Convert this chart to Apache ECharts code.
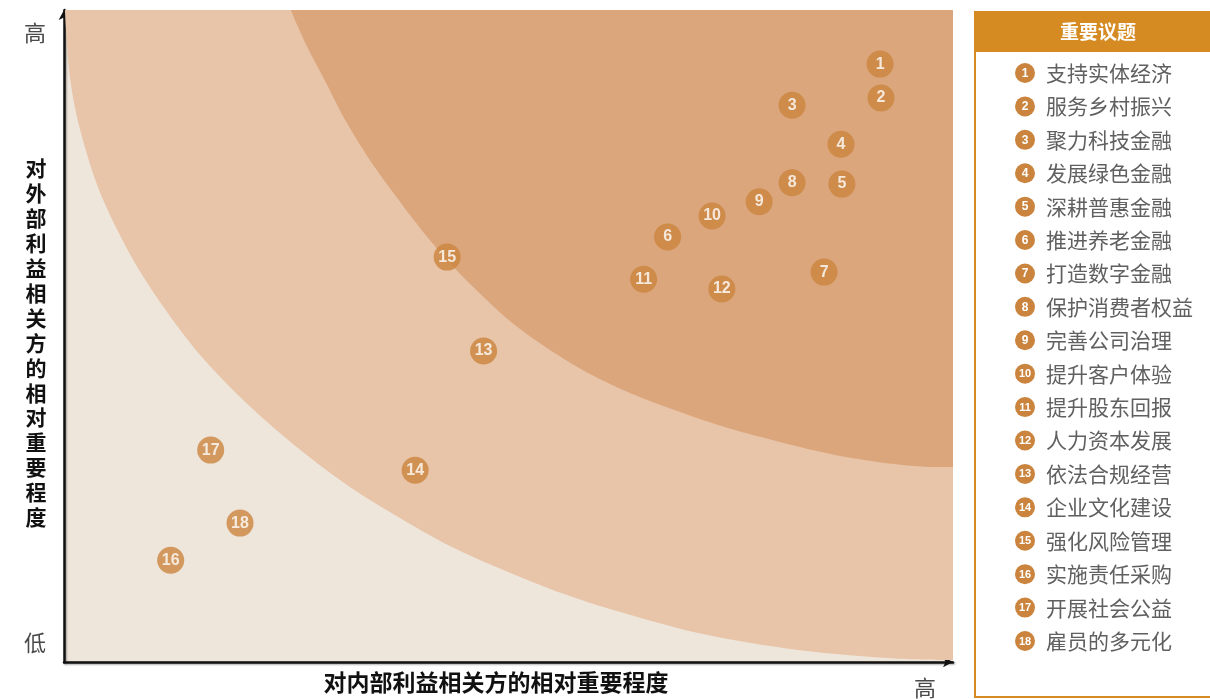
<!DOCTYPE html>
<html>
<head>
<meta charset="utf-8">
<script src="https://cdn.jsdelivr.net/npm/echarts@6/dist/echarts.min.js"></script>
<style>
html,body{margin:0;padding:0;background:#fff;}
#chart{width:1210px;height:699px;}
</style>
</head>
<body>
<div id="chart"></div>
<script>
// Topic names (legend)
const topicNames = ['支持实体经济','服务乡村振兴','聚力科技金融','发展绿色金融','深耕普惠金融','推进养老金融','打造数字金融','保护消费者权益','完善公司治理','提升客户体验','提升股东回报','人力资本发展','依法合规经营','企业文化建设','强化风险管理','实施责任采购','开展社会公益','雇员的多元化'];
// Importance to internal stakeholders (x, 0-100)
const internalScores = [91.8, 91.9, 81.9, 87.4, 87.5, 67.9, 85.5, 81.9, 78.2, 72.9, 65.2, 74.0, 47.2, 39.5, 43.1, 12.0, 16.5, 19.8];
// Importance to external stakeholders (y, 0-100)
const externalScores = [91.7, 86.5, 85.4, 79.4, 73.3, 65.2, 59.8, 73.5, 70.6, 68.4, 58.7, 57.2, 47.7, 29.4, 62.1, 15.6, 32.5, 21.3];
// Band boundaries (data coordinates)
const outerBoundary = [[0.1,100],[0.7,89.4],[1.8,81.7],[4.0,72.2],[7.4,62.6],[10.8,55.2],[15.3,47.1],[21.0,39.1],[26.6,32.5],[32.2,26.8],[37.8,22.1],[43.4,17.8],[49.1,14.3],[54.7,11.2],[60.3,8.6],[71.5,4.4],[82.8,1.8],[94.0,0.5],[100,0.3]];
const innerBoundary = [[25.5,100],[27.3,94.5],[29.3,89.3],[31.6,83.2],[34.4,77.0],[37.4,71.3],[40.2,66.3],[43.0,61.8],[45.6,58.1],[50.0,52.5],[54.5,48.0],[59.0,44.3],[63.8,41.2],[68.6,38.7],[73.5,36.4],[78.4,34.5],[83.3,32.8],[88.2,31.4],[93.1,30.4],[98.0,29.9],[100,29.9]];
const xAxisName = '对内部利益相关方的相对重要程度';
const yAxisName = '对外部利益相关方的相对重要程度';
const legendTitle = '重要议题';
const axisHigh = '高';
const axisLow = '低';

const pointColor = '#CB843D';
const cjk = '"Noto Sans CJK SC"';
const chart = echarts.init(document.getElementById('chart'));

const scatterData = topicNames.map((n, i) => ({ value: [internalScores[i], externalScores[i]], name: n, num: i + 1 }));

const graphics = [];
// Legend panel
graphics.push({ type: 'rect', shape: { x: 975, y: 12, width: 250, height: 685 }, style: { fill: '#fff', stroke: '#D68B22', lineWidth: 2 } });
graphics.push({ type: 'rect', shape: { x: 975, y: 12, width: 250, height: 40 }, style: { fill: '#D68B22' } });
graphics.push({ type: 'text', x: 1098, y: 32, style: { text: legendTitle, fill: '#fff', fontSize: 19, fontWeight: 'bold', fontFamily: cjk, align: 'center', verticalAlign: 'middle' } });
topicNames.forEach((n, i) => {
  const cy = 73 + i * 33.41;
  graphics.push({ type: 'circle', shape: { cx: 1025, cy: cy, r: 10 }, style: { fill: pointColor } });
  graphics.push({ type: 'text', x: 1025, y: cy + 0.5, style: { text: String(i + 1), fill: '#fff', fontSize: (i >= 9 ? 11 : 12), fontWeight: 'bold', fontFamily: 'Liberation Sans', align: 'center', verticalAlign: 'middle' } });
  graphics.push({ type: 'text', x: 1046, y: cy, style: { text: n, fill: '#606060', fontSize: 21, fontFamily: cjk, align: 'left', verticalAlign: 'middle' } });
});
// Axis end labels & names
graphics.push({ type: 'text', x: 35, y: 33, style: { text: axisHigh, fill: '#4a4a4a', fontSize: 22, fontFamily: cjk, align: 'center', verticalAlign: 'middle' } });
graphics.push({ type: 'text', x: 35, y: 643, style: { text: axisLow, fill: '#4a4a4a', fontSize: 22, fontFamily: cjk, align: 'center', verticalAlign: 'middle' } });
graphics.push({ type: 'text', x: 925, y: 688, style: { text: axisHigh, fill: '#4a4a4a', fontSize: 22, fontFamily: cjk, align: 'center', verticalAlign: 'middle' } });
graphics.push({ type: 'text', x: 496, y: 682, style: { text: xAxisName, fill: '#111', fontSize: 23, fontWeight: 'bold', fontFamily: cjk, align: 'center', verticalAlign: 'middle' } });
yAxisName.split('').forEach((ch, k) => {
  graphics.push({ type: 'text', x: 36, y: 168 + k * 24.95, style: { text: ch, fill: '#111', fontSize: 21, fontWeight: 'bold', fontFamily: cjk, align: 'center', verticalAlign: 'middle' } });
});

const axisCommon = {
  type: 'value', min: 0, max: 100,
  splitLine: { show: false }, axisTick: { show: false }, axisLabel: { show: false },
  axisLine: { show: true, symbol: ['none', 'arrow'], symbolSize: [8, 10], lineStyle: { color: '#111', width: 2.5, shadowColor: 'rgba(0,0,0,0.35)', shadowBlur: 2, shadowOffsetX: 1, shadowOffsetY: 1 } }
};

chart.setOption({
  animation: false,
  grid: { left: 64, right: 257, top: 10, bottom: 37, show: true, backgroundColor: '#EEE5DB', borderWidth: 0 },
  xAxis: Object.assign({}, axisCommon),
  yAxis: Object.assign({}, axisCommon),
  graphic: graphics,
  series: [
    { type: 'line', data: outerBoundary, smooth: 0.3, symbol: 'none', lineStyle: { width: 0 }, areaStyle: { origin: 'end', color: '#E8C4A8', opacity: 1 }, z: 1, silent: true },
    { type: 'line', data: innerBoundary, smooth: 0.3, symbol: 'none', lineStyle: { width: 0 }, areaStyle: { origin: 'end', color: '#DBA67C', opacity: 1 }, z: 2, silent: true },
    { type: 'scatter', data: scatterData, symbolSize: 27, itemStyle: { color: pointColor }, z: 5,
      label: { show: true, position: 'inside', formatter: p => String(p.data.num), color: '#fff', fontSize: 16, fontWeight: 'bold', fontFamily: 'Liberation Sans' } }
  ]
});
</script>
</body>
</html>
